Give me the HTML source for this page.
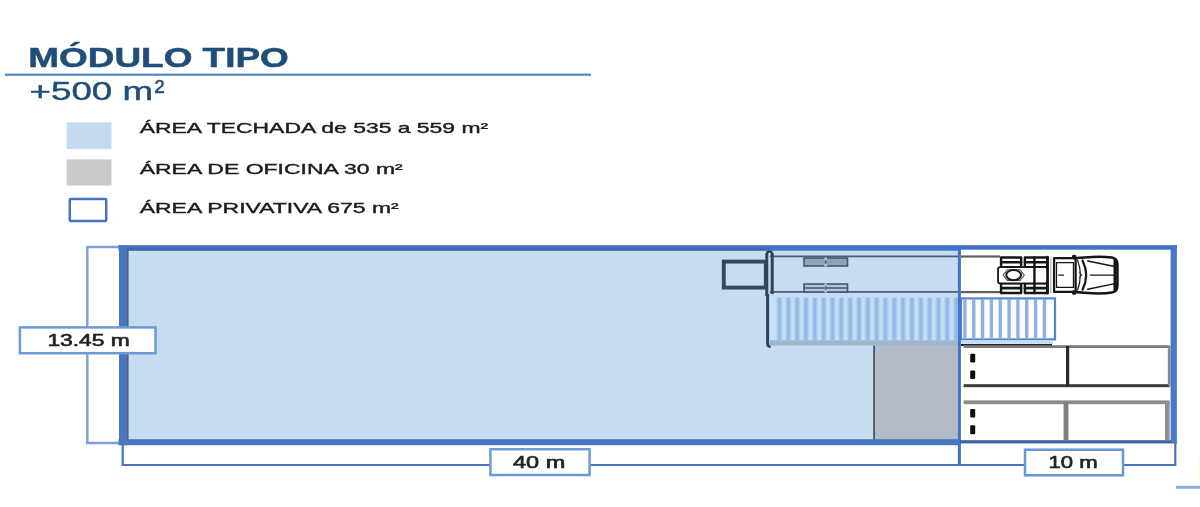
<!DOCTYPE html>
<html lang="es">
<head>
<meta charset="utf-8">
<title>Módulo tipo</title>
<style>
html,body{margin:0;padding:0;background:#fff;}
body{width:1200px;height:507px;overflow:hidden;font-family:"Liberation Sans",sans-serif;}
svg{display:block;filter:blur(0.6px);}
text{filter:blur(0.4px);}
text{font-family:"Liberation Sans",sans-serif;}
</style>
</head>
<body>
<svg width="1200" height="507" viewBox="0 0 1200 507">
<defs><clipPath id="clipIn"><rect x="770" y="297.5" width="188" height="43"/></clipPath><clipPath id="clipOut"><rect x="961" y="299" width="94" height="40"/></clipPath></defs>
<rect x="0" y="0" width="1200" height="507" fill="#ffffff"/>

<!-- header -->
<text x="28.3" y="67" font-size="27.5" font-weight="700" fill="#1f4e79" stroke="#1f4e79" stroke-width="0.5" textLength="260.5" lengthAdjust="spacingAndGlyphs">MÓDULO TIPO</text>
<rect x="5" y="73.6" width="586" height="2.2" fill="#4f86c6"/>
<text x="29.6" y="99.6" font-size="26.5" fill="#1f4e79" stroke="#1f4e79" stroke-width="0.45" textLength="123.5" lengthAdjust="spacingAndGlyphs">+500 m</text>
<text x="154.6" y="101.4" font-size="30" fill="#1f4e79" stroke="#1f4e79" stroke-width="0.3">²</text>

<!-- legend -->
<rect x="66.7" y="122.4" width="44.8" height="26.6" fill="#c3daf0"/>
<rect x="66.7" y="159.4" width="44.8" height="26.1" fill="#c9c9c9"/>
<rect x="69.8" y="198.9" width="36.4" height="22.2" rx="1" fill="#fff" stroke="#4472c4" stroke-width="2.5"/>
<g font-size="14.6" fill="#1c1c1c" stroke="#1c1c1c" stroke-width="0.38">
<text x="139.7" y="132.9" textLength="348.5" lengthAdjust="spacingAndGlyphs">ÁREA TECHADA de 535 a 559 m²</text>
<text x="139.7" y="174.3" textLength="263" lengthAdjust="spacingAndGlyphs">ÁREA DE OFICINA 30 m²</text>
<text x="139.7" y="213.3" textLength="259" lengthAdjust="spacingAndGlyphs">ÁREA PRIVATIVA 675 m²</text>
</g>

<!-- plan -->
<g id="plan">
<!-- left dimension bracket -->
<path d="M122 247 H87.3 V443 H122" fill="none" stroke="#7f9fd8" stroke-width="2.4"/>
<!-- bottom dimension lines -->
<path d="M122.7 443 V465 H1175.3 V443" fill="none" stroke="#4a72c0" stroke-width="2.2"/>
<!-- roofed area fill -->
<rect x="122" y="247" width="838" height="195" fill="#c5dcf1"/>
<!-- office -->
<rect x="874" y="343.6" width="86" height="97" fill="#b3bcc6"/>
<rect x="873.2" y="343.6" width="1.8" height="97" fill="#4a5560"/>

<!-- small dock rectangle -->
<rect x="723.8" y="261.6" width="42" height="26" fill="none" stroke="#34495f" stroke-width="3.9"/>
<!-- container outline lines -->
<rect x="770" y="255.5" width="190" height="1.8" fill="#4a6078"/>
<rect x="770" y="291" width="190" height="1.8" fill="#4a6078"/>
<rect x="961" y="255.4" width="39" height="2.2" fill="#606060"/>
<rect x="961" y="291" width="39" height="2.2" fill="#606060"/>
<!-- door -->
<path d="M766.8 253 V296 M772.2 253 V294 M766.8 253 L769.5 250.5 L772.2 253" fill="none" stroke="#2c4360" stroke-width="3"/>
<path d="M767.6 294 V343 Q767.6 347 770.5 346.4" fill="none" stroke="#2c4360" stroke-width="3"/>
<!-- wheel marks in container -->
<g stroke="#43586e" stroke-width="1.6">
<rect x="804" y="258" width="43.5" height="8" fill="#8fa2b6"/>
<rect x="804" y="284" width="43.5" height="8" fill="#b3c6da"/>
</g>
<path d="M804 288 H847.5" stroke="#43586e" stroke-width="1.4"/>
<path d="M825.7 257.5 V266.5 M825.7 283.5 V292.5" stroke="#b7cbe0" stroke-width="2.6"/>
<path d="M824 262 L825.7 259.5 L827.4 262 L825.7 264.5 Z M824 288 L825.7 285.5 L827.4 288 L825.7 290.5Z" fill="#5a6f86" stroke="none"/>

<!-- striped container inside -->
<rect x="770" y="297.5" width="190" height="43" fill="#c6e2fa"/>
<g clip-path="url(#clipIn)"><g fill="#8fb3e1" style="filter:blur(0.8px)"><rect x="777.50" y="292" width="4" height="54"/><rect x="786.33" y="292" width="4" height="54"/><rect x="795.16" y="292" width="4" height="54"/><rect x="803.99" y="292" width="4" height="54"/><rect x="812.82" y="292" width="4" height="54"/><rect x="821.65" y="292" width="4" height="54"/><rect x="830.48" y="292" width="4" height="54"/><rect x="839.31" y="292" width="4" height="54"/><rect x="848.14" y="292" width="4" height="54"/><rect x="856.97" y="292" width="4" height="54"/><rect x="865.80" y="292" width="4" height="54"/><rect x="874.63" y="292" width="4" height="54"/><rect x="883.46" y="292" width="4" height="54"/><rect x="892.29" y="292" width="4" height="54"/><rect x="901.12" y="292" width="4" height="54"/><rect x="909.95" y="292" width="4" height="54"/><rect x="918.78" y="292" width="4" height="54"/><rect x="927.61" y="292" width="4" height="54"/><rect x="936.44" y="292" width="4" height="54"/><rect x="945.27" y="292" width="4" height="54"/><rect x="954.10" y="292" width="4" height="54"/></g></g>
<rect x="770" y="340.3" width="190" height="5.2" fill="#9fb5cc"/>
<!-- striped container outside -->
<rect x="961" y="298.4" width="94" height="41" fill="#fff" stroke="#5585cc" stroke-width="2.2"/>
<g clip-path="url(#clipOut)"><g fill="#8db1e2" style="filter:blur(0.7px)"><rect x="963.23" y="294" width="3.4" height="50"/><rect x="972.06" y="294" width="3.4" height="50"/><rect x="980.89" y="294" width="3.4" height="50"/><rect x="989.72" y="294" width="3.4" height="50"/><rect x="998.55" y="294" width="3.4" height="50"/><rect x="1007.38" y="294" width="3.4" height="50"/><rect x="1016.21" y="294" width="3.4" height="50"/><rect x="1025.04" y="294" width="3.4" height="50"/><rect x="1033.87" y="294" width="3.4" height="50"/><rect x="1042.70" y="294" width="3.4" height="50"/></g></g>
<rect x="961" y="340.2" width="92" height="3.6" fill="#c5dcf0"/>
<rect x="961" y="344" width="91" height="2" fill="#222"/>

<!-- parking -->
<rect x="963.6" y="345.2" width="206" height="2.8" fill="#7c7c7c"/>
<rect x="963.6" y="384.2" width="206" height="3" fill="#3a3a3a"/>
<rect x="1066" y="346" width="3.2" height="40" fill="#2a2a2a"/>
<rect x="1167.8" y="346" width="2.8" height="40" fill="#8a8a8a"/>
<rect x="963.6" y="400.4" width="206" height="3.8" fill="#8c8c8c"/>
<rect x="1063.6" y="402" width="4.8" height="38" fill="#7e7e7e"/>
<rect x="1165" y="402" width="4.6" height="38" fill="#8e8e8e"/>
<g fill="#0c0c0c">
<rect x="970.2" y="353.8" width="5" height="8.6" rx="1"/>
<rect x="970.2" y="370.4" width="5" height="8.6" rx="1"/>
<rect x="970.2" y="409" width="5" height="8.6" rx="1"/>
<rect x="970.2" y="425.2" width="5" height="9" rx="1"/>
</g>

<!-- truck -->
<g transform="translate(985,245) scale(0.12083)" fill="none" stroke="#161616" stroke-width="15" stroke-linejoin="round" stroke-linecap="round">
<g fill="#fff" stroke-width="20">
<rect x="133" y="103" width="166" height="80"/>
<rect x="330" y="103" width="185" height="80"/>
<rect x="133" y="317" width="166" height="80"/>
<rect x="330" y="317" width="185" height="80"/>
</g>
<path d="M133 143 H299 M330 143 H515 M133 357 H299 M330 357 H515" stroke-width="21"/>
<rect x="108" y="183" width="407" height="134" rx="18" fill="#fff" stroke-width="15"/>
<path d="M409 103 V397 M519 100 V400" stroke-width="20"/>
<path d="M150 249 L185 205 H290 L325 249 L290 293 H185 Z" stroke-width="9" stroke="#555"/>
<ellipse cx="237" cy="249" rx="61" ry="42" fill="#fff" stroke-width="17"/>
<path d="M545 105 V395" stroke="#9a9a9a" stroke-width="8"/>
<rect x="572" y="108" width="178" height="280" stroke-width="19" fill="#fff"/>
<rect x="592" y="146" width="140" height="205" stroke-width="10"/>
<path d="M610 250 H650" stroke-width="11"/>
<circle cx="738" cy="102" r="13" fill="#161616"/>
<circle cx="738" cy="394" r="13" fill="#161616"/>
<path d="M766 125 Q812 249 766 373" stroke-width="10"/>
<path d="M780 228 L801 249 L780 270" stroke-width="8"/>
<path d="M807 128 Q868 249 807 370" stroke-width="18"/>
<path d="M760 108 L823 103 Q960 90 1050 104 Q1096 112 1096 160 V338 Q1096 386 1050 394 Q960 408 823 395 L760 390" stroke-width="21"/>
<path d="M850 132 L1064 176 M850 366 L1064 322" stroke-width="12"/>
<path d="M872 249 H1066" stroke-width="11"/>
<path d="M1076 120 V378" stroke-width="25"/>
<circle cx="1078" cy="172" r="15" fill="#161616" stroke="none"/>
<circle cx="1078" cy="328" r="15" fill="#161616" stroke="none"/>
</g>

<!-- vertical division line at 40 m -->
<rect x="957.9" y="247" width="3" height="219" fill="#4472c4"/>

<!-- main border -->
<rect x="118.5" y="245.2" width="842" height="5.5" fill="#4472c4"/>
<rect x="960" y="245.2" width="217" height="4.5" fill="#4472c4"/>
<rect x="119" y="245.2" width="7.8" height="200" fill="#4876c6"/>
<rect x="126.6" y="249" width="2" height="191" fill="#4d607c"/>
<rect x="126.6" y="248.6" width="640" height="1.8" fill="#44639c"/>
<rect x="118.5" y="439.2" width="842" height="6" fill="#4876c0"/>
<rect x="960" y="440.2" width="217" height="3.2" fill="#3d5fa8"/>
<rect x="1170.6" y="245.2" width="6.3" height="198" fill="#4a78c8"/>
</g>

<!-- dimension labels -->
<g font-size="16.4" fill="#222" stroke="#222" stroke-width="0.6">
<rect x="19.9" y="327.4" width="135.6" height="25.8" fill="#fff" stroke="#6a9bd8" stroke-width="2.5"/>
<text x="47.4" y="346" textLength="82.4" lengthAdjust="spacingAndGlyphs">13.45 m</text>
<rect x="490.4" y="449.2" width="99.2" height="25.8" fill="#fff" stroke="#6a9bd8" stroke-width="2.5"/>
<text x="513" y="467.9" textLength="52.2" lengthAdjust="spacingAndGlyphs">40 m</text>
<rect x="1025" y="449.7" width="98" height="25.6" fill="#fff" stroke="#6496d8" stroke-width="2.5"/>
<text x="1048.4" y="467.9" textLength="49.2" lengthAdjust="spacingAndGlyphs">10 m</text>
</g>

<!-- stray bits at the right edge -->
<rect x="1176" y="485.8" width="24" height="3" fill="#8ab0d8"/>
<rect x="1197.5" y="456" width="2.5" height="22" fill="#fbf6c8" opacity="0.3"/>
</svg>

</body>
</html>
